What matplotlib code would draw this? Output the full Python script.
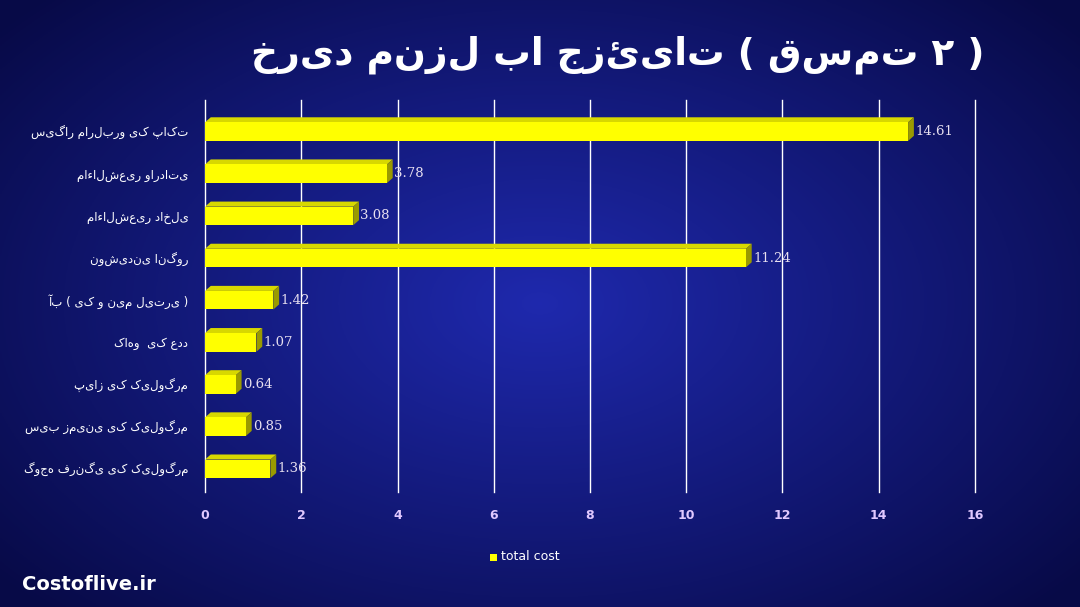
import numpy as np
import matplotlib
matplotlib.use("Agg")
import matplotlib.pyplot as plt
from matplotlib.patches import Polygon

categories = ["سیگار مارلبرو یک پاکت", "ماءالشعیر وارداتی", "ماءالشعیر داخلی",
              "نوشیدنی انگور", "آب ( یک و نیم لیتری )", "کاهو  یک عدد",
              "پیاز یک کیلوگرم", "سیب زمینی یک کیلوگرم", "گوجه فرنگی یک کیلوگرم"]
values = [14.61, 3.78, 3.08, 11.24, 1.42, 1.07, 0.64, 0.85, 1.36]
xticks = [0, 2, 4, 6, 8, 10, 12, 14, 16]

fig = plt.figure(figsize=(10.8, 6.07), dpi=100)
bg = fig.add_axes([0, 0, 1, 1])
yy, xx = np.mgrid[0:1:300j, 0:1:540j]
r = np.sqrt(((xx - 0.5) * 1.1) ** 2 + (yy - 0.5) ** 2)
img = np.zeros((300, 540, 3))
base = np.clip(1 - r * 1.4, 0, 1)
img[..., 0] = 0.03 + 0.09 * base
img[..., 1] = 0.04 + 0.12 * base
img[..., 2] = 0.28 + 0.40 * base
bg.imshow(img, aspect="auto", extent=[0, 1, 0, 1])
bg.axis("off")

ax = fig.add_axes([205/1080, 1 - 492/607, (975-205)/1080, (492-100)/607])
ax.set_facecolor("none")
n = len(categories)
ypos = np.arange(n)
ax.set_xlim(0, 16)
ax.set_ylim(n - 0.45, -0.75)
for t in xticks:
    ax.axvline(t, color="white", lw=1, zorder=0, clip_on=False)
h = 0.44
dx, dy = 0.12, 0.12
for y, v in zip(ypos, values):
    ax.add_patch(Polygon([[0, y - h/2], [dx, y - h/2 - dy], [v + dx, y - h/2 - dy], [v, y - h/2]],
                         closed=True, facecolor="#d8d800", edgecolor="none", zorder=2))
    ax.add_patch(Polygon([[v, y - h/2], [v + dx, y - h/2 - dy], [v + dx, y + h/2 - dy], [v, y + h/2]],
                         closed=True, facecolor="#9a9a00", edgecolor="none", zorder=2))
ax.barh(ypos, values, height=h, color="#ffff00", zorder=3)
for y, v in zip(ypos, values):
    ax.text(v + 0.15, y, f"{v:.2f}", color="#e8e0f0", fontsize=9.5, va="center",
            fontfamily="DejaVu Serif", zorder=4)
ax.set_yticks(ypos)
ax.set_yticklabels(categories, color="white", fontsize=8.5, fontfamily="DejaVu Sans")
ax.set_xticks(xticks)
ax.set_xticklabels([str(t) for t in xticks], color="#e0c8ff", fontsize=9, fontweight="bold")
ax.tick_params(length=0, pad=12)
for s in ax.spines.values():
    s.set_visible(False)

fig.text(0.912, 0.91, "خرید منزل با جزئیات ( قسمت ۲ )", color="white", fontsize=27,
         fontweight="bold", ha="right", va="center", fontfamily="DejaVu Sans")
fig.patches.append(matplotlib.patches.Rectangle((490/1080, 1 - 561/607), 7/1080, 7/607,
                   transform=fig.transFigure, facecolor="#ffff00"))
fig.text(501/1080, 1 - 557/607, "total cost", color="white", fontsize=9, va="center")
fig.text(22/1080, 1 - 585/607, "Costoflive.ir", color="white", fontsize=14,
         fontweight="bold", va="center")
fig.savefig("out.png", dpi=100)
